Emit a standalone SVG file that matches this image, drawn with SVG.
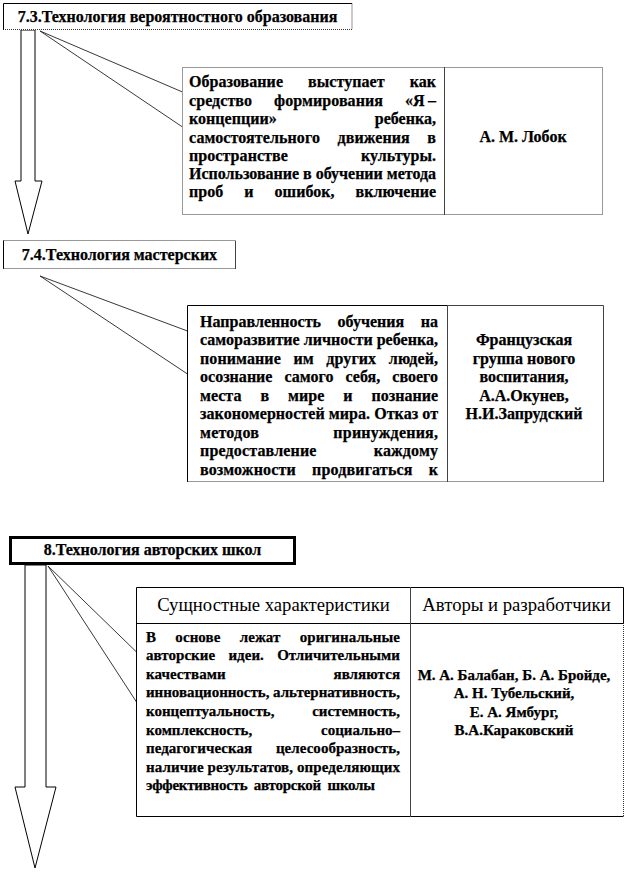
<svg xmlns="http://www.w3.org/2000/svg" width="629" height="872" viewBox="0 0 629 872">
<style>
  .bg{fill:#fff}
  .t{font-family:"Liberation Serif","Times New Roman",serif;fill:#000;font-weight:bold;font-size:16px;stroke:#000;stroke-width:0.25px}
  .s{font-size:15px}
  .h{font-family:"Liberation Serif","Times New Roman",serif;fill:#000;font-size:18.7px;text-anchor:middle}
  .c{text-anchor:middle}
  .ln{stroke:#000;stroke-width:1;fill:none}
  .gr{stroke:#444;stroke-width:1;fill:none}
  .dot{stroke:#333;stroke-width:1;fill:none;stroke-dasharray:1 1}
  .ptr{stroke:#222;stroke-width:0.9;fill:none}
  .arr{fill:#fff;stroke:#000;stroke-width:1}
</style>
<rect width="629" height="872" fill="#fff"/>

<g id="connectors">
  <polygon class="arr" points="21,30 21,181 15,181 28,234 42,181 35,181 35,30"/>
  <polygon class="arr" points="25,565 25,787 15,787 35,868 56,787 46,787 46,565"/>
  <polyline class="ptr" points="182.5,92 40,31 182.5,127"/>
  <polyline class="ptr" points="187.5,331 40,276 187.5,374"/>
  <polyline class="ptr" points="136.5,652 48,566 136.5,702"/>
</g>

<g id="node-7-3">
  <rect class="bg" x="3" y="3" width="349" height="27"/>
  <path class="ln" d="M3.5,30 V3.5 H352"/>
  <path class="dot" d="M352,3.5 V29.5 H3.5"/>
  <text class="t c" x="177.5" y="22">7.3.Технология вероятностного образования</text>
</g>

<g id="table-7-3">
  <rect class="bg" x="182" y="67" width="421" height="148"/>
  <rect class="dot" x="182.5" y="67.5" width="420" height="147"/>
  <line class="gr" x1="444.5" y1="67" x2="444.5" y2="215"/>
  <text class="t" x="189" y="87" textLength="247" lengthAdjust="spacing" style="word-spacing:21px">Образование выступает как</text>
  <text class="t" x="189" y="105.5" textLength="247" lengthAdjust="spacing" style="word-spacing:18px">средство формирования «Я&#8201;–</text>
  <text class="t" x="189" y="124" textLength="247" lengthAdjust="spacing" style="word-spacing:94px">концепции» ребенка,</text>
  <text class="t" x="189" y="142.5" textLength="247" lengthAdjust="spacing" style="word-spacing:13.5px">самостоятельного движения в</text>
  <text class="t" x="189" y="160.5" textLength="247" lengthAdjust="spacing" style="word-spacing:69px">пространстве культуры.</text>
  <text class="t" x="189" y="179" textLength="247" lengthAdjust="spacing">Использование в обучении метода</text>
  <text class="t" x="189" y="197" textLength="247" lengthAdjust="spacing" style="word-spacing:17px">проб и ошибок, включение</text>
  <text class="t c" x="523" y="142">А. М. Лобок</text>
</g>

<g id="node-7-4">
  <rect class="bg" x="3" y="240" width="233" height="29"/>
  <path class="ln" d="M3.5,269 V240.5"/>
  <path class="gr" d="M235.5,240.5 V269"/>
  <path class="dot" d="M3.5,240.5 H235.5 M3.5,268.5 H235.5"/>
  <text class="t c" x="119.5" y="260">7.4.Технология мастерских</text>
</g>

<g id="table-7-4">
  <rect class="bg" x="187" y="305" width="417" height="177"/>
  <path class="ln" d="M187.5,482 V305.5 H447"/>
  <path class="gr" d="M447,305.5 H603.5 V482"/>
  <path class="dot" d="M187.5,481.5 H603.5"/>
  <line class="gr" x1="447.5" y1="305" x2="447.5" y2="482"/>
  <text class="t" x="200" y="326.5" textLength="238" lengthAdjust="spacing" style="word-spacing:12.5px">Направленность обучения на</text>
  <text class="t" x="200" y="345" textLength="238" lengthAdjust="spacing">саморазвитие личности ребенка,</text>
  <text class="t" x="200" y="363.5" textLength="238" lengthAdjust="spacing" style="word-spacing:8.5px">понимание им других людей,</text>
  <text class="t" x="200" y="382" textLength="238" lengthAdjust="spacing" style="word-spacing:8px">осознание самого себя, своего</text>
  <text class="t" x="200" y="400.5" textLength="238" lengthAdjust="spacing" style="word-spacing:15px">места в мире и познание</text>
  <text class="t" x="200" y="419" textLength="238" lengthAdjust="spacing">закономерностей мира. Отказ от</text>
  <text class="t" x="200" y="437.5" textLength="238" lengthAdjust="spacing" style="word-spacing:70px">методов принуждения,</text>
  <text class="t" x="200" y="456" textLength="238" lengthAdjust="spacing" style="word-spacing:53px">предоставление каждому</text>
  <text class="t" x="200" y="474.5" textLength="238" lengthAdjust="spacing" style="word-spacing:12px">возможности продвигаться к</text>
  <text class="t c" x="524" y="345">Французская</text>
  <text class="t c" x="524" y="363.5">группа нового</text>
  <text class="t c" x="524" y="382">воспитания,</text>
  <text class="t c" x="524" y="400.5">А.А.Окунев,</text>
  <text class="t c" x="524" y="419">Н.И.Запрудский</text>
</g>

<g id="node-8">
  <rect x="10.5" y="537.5" width="284" height="26" fill="#fff" stroke="#000" stroke-width="3"/>
  <text class="t c" x="152.5" y="555">8.Технология авторских школ</text>
</g>

<g id="table-8">
  <rect class="bg" x="136" y="587" width="488" height="230"/>
  <path class="ln" d="M623.5,623 V587.5 H136.5 V816.5 H623.5"/>
  <path class="dot" d="M623.5,623 V816.5"/>
  <line class="ln" x1="136.5" y1="623.5" x2="623.5" y2="623.5"/>
  <line class="gr" x1="410.5" y1="587" x2="410.5" y2="817"/>
  <text class="h" x="273.5" y="611">Сущностные характеристики</text>
  <text class="h" x="516.5" y="611">Авторы и разработчики</text>
  <text class="t s" x="146" y="641.5" textLength="254" lengthAdjust="spacing" style="word-spacing:15.5px">В основе лежат оригинальные</text>
  <text class="t s" x="146" y="660.1" textLength="254" lengthAdjust="spacing" style="word-spacing:9.5px">авторские идеи. Отличительными</text>
  <text class="t s" x="146" y="678.7" textLength="254" lengthAdjust="spacing" style="word-spacing:104px">качествами являются</text>
  <text class="t s" x="146" y="697.3" textLength="254" lengthAdjust="spacing">инновационность, альтернативность,</text>
  <text class="t s" x="146" y="715.9" textLength="254" lengthAdjust="spacing" style="word-spacing:34px">концептуальность, системность,</text>
  <text class="t s" x="146" y="734.5" textLength="254" lengthAdjust="spacing" style="word-spacing:65px">комплексность, социально–</text>
  <text class="t s" x="146" y="753.1" textLength="254" lengthAdjust="spacing" style="word-spacing:20px">педагогическая целесообразность,</text>
  <text class="t s" x="146" y="771.7" textLength="254" lengthAdjust="spacing">наличие результатов, определяющих</text>
  <text class="t s" x="146" y="790.3" textLength="229" lengthAdjust="spacing" style="word-spacing:3px">эффективность авторской школы</text>
  <text class="t s c" x="514" y="679.5">М. А. Балабан, Б. А. Бройде,</text>
  <text class="t s c" x="514" y="698">А. Н. Тубельский,</text>
  <text class="t s c" x="514" y="716.5">Е. А. Ямбург,</text>
  <text class="t s c" x="514" y="735">В.А.Караковский</text>
</g>
</svg>
